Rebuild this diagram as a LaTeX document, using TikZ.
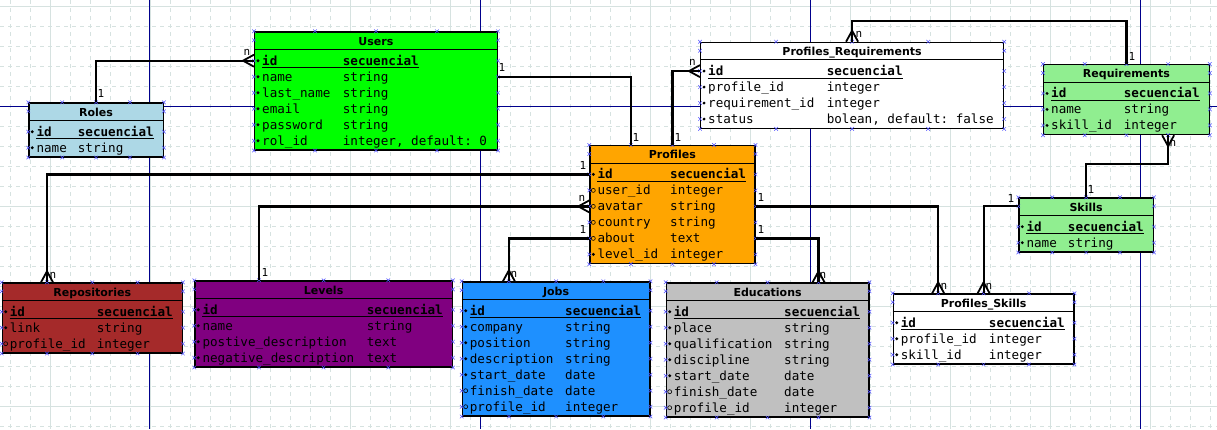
\documentclass[tikz,border=0pt]{standalone}
\usepackage{fontspec}
\setmainfont{DejaVu Sans}
\setmonofont{DejaVu Sans Mono}
\usetikzlibrary{calc}

\definecolor{gridc}{RGB}{214,226,224}
\definecolor{pagec}{RGB}{0,0,140}
\definecolor{cptc}{RGB}{80,80,255}
\definecolor{rolesc}{RGB}{173,216,230}
\definecolor{usersc}{RGB}{0,255,0}
\definecolor{reqc}{RGB}{144,238,144}
\definecolor{profc}{RGB}{255,165,0}
\definecolor{repoc}{RGB}{165,42,42}
\definecolor{levelc}{RGB}{128,0,128}
\definecolor{jobc}{RGB}{30,144,255}
\definecolor{educc}{RGB}{192,192,192}

\tikzset{
  minor/.style={gridc, line width=0.8pt, dash pattern=on 4pt off 4pt},
  major/.style={gridc, line width=0.8pt},
  pageline/.style={pagec, line width=0.9pt},
  tbl/.style={draw=black, line width=1.2pt, rectangle, inner sep=0},
  ttl/.style={font=\fontsize{11}{12}\selectfont\bfseries, anchor=base, inner sep=0},
  fld/.style={font=\fontsize{12.6}{14}\selectfont\ttfamily, anchor=base west, inner sep=0},
  card/.style={font=\fontsize{11}{12}\selectfont\ttfamily, inner sep=0},
  rel/.style={line width=2.2pt},
  mkf/.style={fill=black, radius=1.6},
  mko/.style={draw=black, line width=0.6pt, radius=2},
  crow/.pic={\draw[line width=1.8pt] (0,6) -- (-11,0) -- (0,-6);},
  cpt/.pic={\draw[cptc, line width=0.5pt] (-1.8,-1.8) -- (1.8,1.8) (-1.8,1.8) -- (1.8,-1.8);}
}

% #1 name, #2 fill, #3 x, #4 y, #5 width, #6 type column, #7 title, #8 rows, #9 fields after id
\newcommand{\dbtable}[9]{%
  \node[tbl, fill=#2, minimum width=#5, minimum height={22+16*#8}, anchor=north west] (#1) at (#3,#4) {};
  \draw[line width=0.8pt] ([yshift=-18pt]#1.north west) -- ([yshift=-18pt]#1.north east);
  \path (#1.north) ++(0,13.7) node[ttl] (#1-t) {#7};
  \coordinate (#1-l0) at ([yshift=-9pt]#1.north west);
  \coordinate (#1-r0) at ([yshift=-9pt]#1.north east);
  \coordinate (#1-l1) at ([yshift=-29.4pt]#1.north west);
  \coordinate (#1-r1) at ([yshift=-29.4pt]#1.north east);
  \path (#1-l1) ++(8,4.5) node[fld] (#1-k1) {\bfseries id};
  \path (#1-l1) ++(#6,4.5) node[fld] (#1-v1) {\bfseries secuencial};
  \draw[line width=0.8pt] ([yshift=-2.5pt]#1-k1.base west) -- ([yshift=-2.5pt]#1-v1.base east);
  \path[mkf] (#1-l1) ++(4,0) circle;
  \foreach \m/\k/\t [count=\i from 2] in {#9} {
    \coordinate (#1-l\i) at ([yshift={-29.4pt-16pt*(\i-1)}]#1.north west);
    \coordinate (#1-r\i) at ([yshift={-29.4pt-16pt*(\i-1)}]#1.north east);
    \path (#1-l\i) ++(8,4.5) node[fld] (#1-k\i) {\k};
    \path (#1-l\i) ++(#6,4.5) node[fld] (#1-v\i) {\t};
    \path[mk\m] (#1-l\i) ++(4,0) circle;
  }
  \foreach \f [count=\j from 0] in {0,0.25,0.5,0.75,1} {
    \coordinate (#1-n\j) at ($(#1.north west)!\f!(#1.north east)$);
    \coordinate (#1-s\j) at ($(#1.south west)!\f!(#1.south east)$);
    \path (#1-n\j) pic{cpt} (#1-s\j) pic{cpt};
  }
  \foreach \i in {0,...,#8} {\path (#1-l\i) pic{cpt} (#1-r\i) pic{cpt};}
}

\begin{document}
\begin{tikzpicture}[x=1pt,y=-1pt]
\useasboundingbox (0,0) rectangle (1217,429);
\fill[white] (0,0) rectangle (1217,429);
% grid and page breaks
\foreach \x in {10,30,...,1210} {\draw[minor] (\x,0) -- (\x,429);}
\foreach \y in {6.7,26.7,...,426.7} {\draw[minor] (0,\y) -- (1217,\y);}
\foreach \x in {50,150,...,1150} {\draw[major] (\x,0) -- (\x,429);}
\foreach \y in {6.7,106.7,...,406.7} {\draw[major] (0,\y) -- (1217,\y);}
\foreach \x in {149.3,480,810,1140} {\draw[pageline] (\x,0) -- (\x,429);}
\draw[pageline] (0,106.7) -- (1217,106.7);

% tables
\dbtable{roles}{rolesc}{28.3}{102.3}{134.4}{49.4}{Roles}{2}{f/name/string}
\dbtable{users}{usersc}{254}{31.3}{242.7}{88.7}{Users}{6}{f/name/string, f/last\_name/string, f/email/string, f/password/string, f/rol\_id/{integer, default: 0}}
\dbtable{pr}{white}{700}{41.7}{303}{126.6}{Profiles\_Requirements}{4}{f/profile\_id/integer, f/requirement\_id/integer, f/status/{bolean, default: false}}
\dbtable{req}{reqc}{1043}{64}{165.6}{80.6}{Requirements}{3}{f/name/string, f/skill\_id/integer}
\dbtable{profiles}{profc}{589.3}{145}{165}{80.7}{Profiles}{6}{o/user\_id/integer, o/avatar/string, o/country/string, o/about/text, f/level\_id/integer}
\dbtable{skills}{reqc}{1018.3}{197.3}{134.4}{49.4}{Skills}{2}{f/name/string}
\dbtable{ps}{white}{892.7}{293.3}{180.6}{96}{Profiles\_Skills}{3}{f/profile\_id/integer, f/skill\_id/integer}
\dbtable{repos}{repoc}{1.7}{282.3}{180}{95}{Repositories}{3}{f/link/string, o/profile\_id/integer}
\dbtable{levels}{levelc}{194.3}{280.3}{257.4}{172.4}{Levels}{4}{f/name/string, f/postive\_description/text, f/negative\_description/text}
\dbtable{jobs}{jobc}{461.7}{281.3}{187.6}{103.3}{Jobs}{7}{f/company/string, f/position/string, f/description/string, f/start\_date/date, o/finish\_date/date, o/profile\_id/integer}
\dbtable{educ}{educc}{665.7}{282.3}{202.6}{118.3}{Educations}{7}{f/place/string, f/qualification/string, f/discipline/string, f/start\_date/date, o/finish\_date/date, o/profile\_id/integer}

% relations
\draw[rel] (roles-n2) |- (users-l1);
\path (users-l1) pic{crow};
\draw[rel] (users-r2) -| (profiles-n1);
\draw[rel] (profiles-n2) |- (pr-l1);
\path (pr-l1) pic{crow};
\draw[rel] (req-n2) -- ++(0,-43) -| (pr-n2);
\path (pr-n2) pic[rotate=-90]{crow};
\draw[rel] (skills-n2) -- ++(0,-33) -| (req-s3);
\path (req-s3) pic[rotate=90]{crow};
\draw[rel] (skills-l0) -| (ps-n2);
\path (ps-n2) pic[rotate=-90]{crow};
\draw[rel] (profiles-r3) -| (ps-n1);
\path (ps-n1) pic[rotate=-90]{crow};
\draw[rel] (profiles-r5) -| (educ-n3);
\path (educ-n3) pic[rotate=-90]{crow};
\draw[rel] (profiles-l5) -| (jobs-n1);
\path (jobs-n1) pic[rotate=-90]{crow};
\draw[rel] (levels-n1) |- (profiles-l3);
\path (profiles-l3) pic{crow};
\draw[rel] (profiles-l1) -| (repos-n1);
\path (repos-n1) pic[rotate=-90]{crow};

% cardinalities
\node[card] (ru1) at (101,93) {1};
\node[card] (ru2) at (247,52) {n};
\node[card] (up1) at (502,67) {1};
\node[card] (up2) at (636,137) {1};
\node[card] (pp1) at (678,137) {1};
\node[card] (pp2) at (692.5,62) {n};
\node[card] (rp1) at (1132,56) {1};
\node[card] (rp2) at (859,34) {n};
\node[card] (rs1) at (1173,143) {n};
\node[card] (rs2) at (1091,189) {1};
\node[card] (sp1) at (1011,198) {1};
\node[card] (sp2) at (989,286) {n};
\node[card] (ps1) at (761,197) {1};
\node[card] (ps2) at (944,286) {n};
\node[card] (pe1) at (761,229) {1};
\node[card] (pe2) at (823,275) {n};
\node[card] (pj1) at (583,229) {1};
\node[card] (pj2) at (514,274) {n};
\node[card] (pl1) at (582,198) {n};
\node[card] (pl2) at (265,272) {1};
\node[card] (rr1) at (583,165) {1};
\node[card] (rr2) at (53,275) {n};
\end{tikzpicture}
\end{document}
